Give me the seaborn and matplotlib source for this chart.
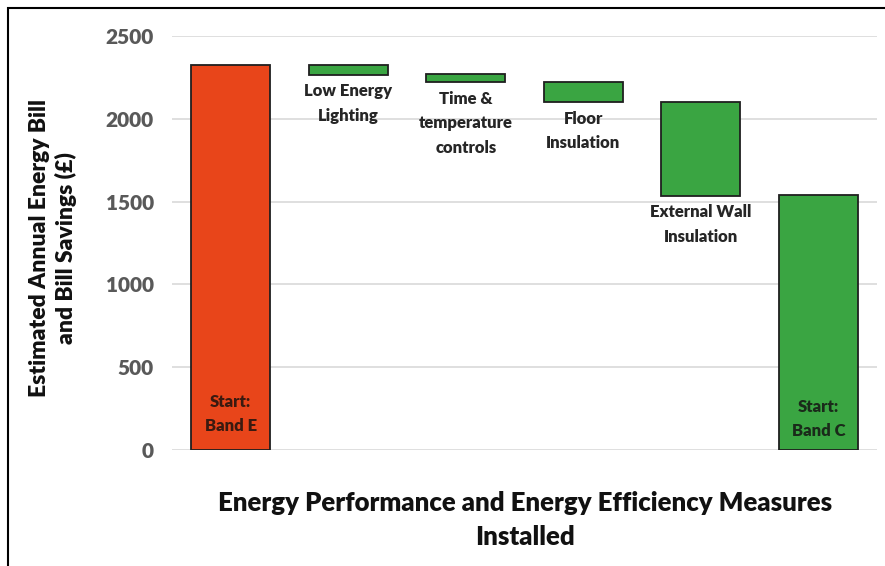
import matplotlib
matplotlib.use("Agg")
import matplotlib.pyplot as plt
import seaborn as sns
import pandas as pd
from matplotlib.patches import Rectangle

categories = ["Start: Band E", "Low Energy Lighting", "Time & temperature controls",
              "Floor Insulation", "External Wall Insulation", "Start: Band C"]
bar_labels = ["Start:\nBand E", "Low Energy\nLighting", "Time &\ntemperature\ncontrols",
              "Floor\nInsulation", "External Wall\nInsulation", "Start:\nBand C"]
tops = [2325, 2325, 2270, 2222, 2103, 1537]
bottoms = [0, 2265, 2220, 2100, 1535, 0]
y_ticks = [0, 500, 1000, 1500, 2000, 2500]

colors = ["#E8451A", "#3AA542", "#3AA542", "#3AA542", "#3AA542", "#3AA542"]

df = pd.DataFrame({"category": categories,
                   "height": [t - b for t, b in zip(tops, bottoms)],
                   "bottom": bottoms})

sns.set_theme(style="white")
plt.rcParams["font.family"] = ["Lato", "DejaVu Sans"]

fig = plt.figure(figsize=(8.85, 5.66), dpi=100)
ax = fig.add_axes([172/885, 1 - 450/566, (877-172)/885, (450-36)/566])

sns.barplot(data=df, x="category", y="height", bottom=df["bottom"].values,
            color=colors[1], width=0.67, edgecolor="#1f1f1f", linewidth=1.3,
            ax=ax, zorder=3)
for p, c in zip(ax.patches, colors):
    p.set_facecolor(c)

ax.set_ylim(0, 2500)
ax.set_xlim(-0.5, 5.5)
ax.set_yticks(y_ticks)
ax.set_yticklabels([str(v) for v in y_ticks], fontsize=15, fontweight="heavy", color="#595959")
ax.tick_params(axis="y", length=0, pad=13)
ax.set_xticks([])
ax.set_xlabel("")
ax.set_ylabel("")
ax.yaxis.grid(True, color="#d9d9d9", linewidth=1.2, zorder=0)
ax.set_axisbelow(True)
for s in ax.spines.values():
    s.set_visible(False)

# labels below floating bars
for i in range(1, 5):
    ax.annotate(bar_labels[i], xy=(i, bottoms[i]), xytext=(0, -6), textcoords="offset points",
                ha="center", va="top", fontsize=12, fontweight="heavy", color="#262626",
                linespacing=1.65)
# labels inside start bars
ax.text(0, 218, bar_labels[0], ha="center", va="center", fontsize=12, fontweight="heavy",
        color="#3a1a10", linespacing=1.65)
ax.text(5, 188, bar_labels[5], ha="center", va="center", fontsize=12, fontweight="heavy",
        color="#1a2a1a", linespacing=1.65)

fig.text(53/885, 1 - 248/566, "Estimated Annual Energy Bill\nand Bill Savings (£)",
         rotation=90, ha="center", va="center", fontsize=16.5, fontweight="heavy",
         color="#111111", linespacing=1.28)
fig.text(525/885, 1 - 520/566, "Energy Performance and Energy Efficiency Measures\nInstalled",
         ha="center", va="center", fontsize=18.5, fontweight="heavy", color="#111111",
         linespacing=1.5)

fig.patches.append(Rectangle((8/885, -0.1), 1.2, 1 - 8/566 + 0.1, transform=fig.transFigure,
                             fill=False, edgecolor="#000000", linewidth=1.5))

fig.savefig("out.png", dpi=100)
